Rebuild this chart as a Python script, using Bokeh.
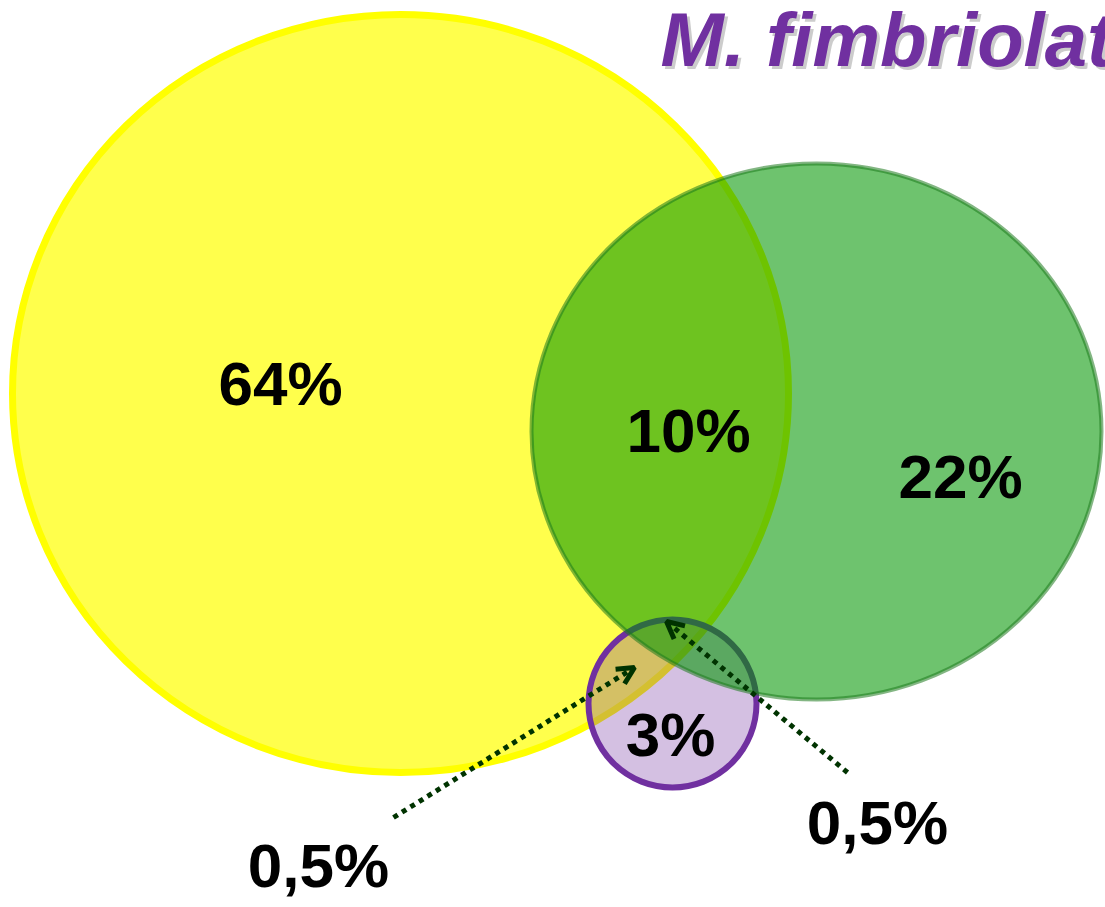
from bokeh.plotting import figure
from bokeh.models import Range1d, Arrow, OpenHead
from bokeh.core.properties import value
from bokeh.embed import file_html
from bokeh.resources import INLINE

# Share of each region of the diagram (percent)
region_names = ["yellow only", "yellow & green", "green only", "purple only",
                "yellow & purple", "green & purple"]
region_values = [64, 10, 22, 3, 0.5, 0.5]
title_text = "M. fimbriolata"

def pct(v):
    return f"{v:g}%".replace(".", ",")

# Layout (screen-like coordinates, y grows downward)
label_x = [280, 688, 960, 670, 318, 877]
label_y = [383, 430, 476, 734, 865, 822]

set_x = [400, 816, 672]
set_y = [393, 431, 703]
set_w = [776, 570, 168]
set_h = [758, 536, 168]

# arrows for the two small overlaps: start (label side) -> tip
arrow_x0 = [393, 847]
arrow_y0 = [817, 772]
arrow_x1 = [634, 666]
arrow_y1 = [667, 621]

W, H = 1105, 907
p = figure(width=W, height=H, x_range=Range1d(0, W), y_range=Range1d(H, 0),
           x_axis_type=None, y_axis_type=None, toolbar_location=None,
           output_backend="svg", min_border=0)
p.grid.visible = False
p.outline_line_color = None
p.background_fill_color = "white"
p.border_fill_color = "white"

# yellow set
p.ellipse(x=set_x[0], y=set_y[0], width=set_w[0], height=set_h[0],
          fill_color="#FFFF00", fill_alpha=0.7,
          line_color="#FFFF00", line_width=7)
# purple set
p.ellipse(x=set_x[2], y=set_y[2], width=set_w[2], height=set_h[2],
          fill_color="#7030A0", fill_alpha=0.3,
          line_color="#7030A0", line_width=6)
# green set (on top, translucent)
p.ellipse(x=set_x[1], y=set_y[1], width=set_w[1], height=set_h[1],
          fill_color="#009600", fill_alpha=0.57,
          line_color="#1E7A1E", line_alpha=0.55, line_width=4)

# region labels
p.text(x=label_x, y=label_y, text=[pct(v) for v in region_values],
       text_font=value("Liberation Sans"), text_font_style="bold",
       text_font_size="62px", text_color="black",
       text_align="center", text_baseline="alphabetic")

# dotted arrows
for x0, y0, x1, y1 in zip(arrow_x0, arrow_y0, arrow_x1, arrow_y1):
    p.add_layout(Arrow(
        end=OpenHead(line_color="#003300", line_width=5, size=17),
        x_start=x0, y_start=y0, x_end=x1, y_end=y1,
        line_color="#003300", line_width=5, line_dash="5 5"))

# title with soft shadow
p.text(x=[663], y=[42], text=[title_text],
       text_font=value("Liberation Sans"), text_font_style="bold italic",
       text_font_size="76px", text_color="#808080", text_alpha=0.4,
       text_align="left", text_baseline="alphabetic")
p.text(x=[660], y=[39], text=[title_text],
       text_font=value("Liberation Sans"), text_font_style="bold italic",
       text_font_size="76px", text_color="#7030A0",
       text_align="left", text_baseline="alphabetic")

open("out.html", "w").write(file_html(p, INLINE))
